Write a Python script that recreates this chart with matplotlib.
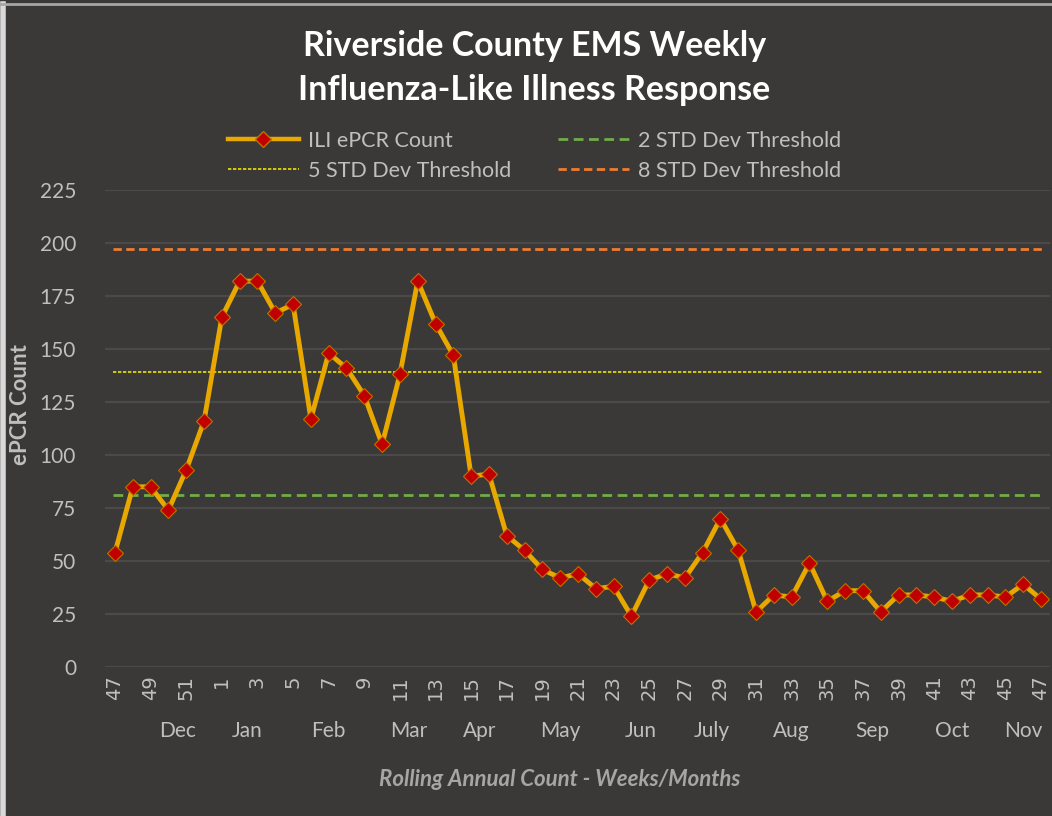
import matplotlib
matplotlib.use("Agg")
import matplotlib.pyplot as plt
import matplotlib.transforms as mtransforms
from matplotlib.lines import Line2D

weeks = [47, 48, 49, 50, 51, 52] + list(range(1, 48))
counts = [54, 85, 85, 74, 93, 116, 165, 182, 182, 167, 171, 117, 148, 141, 128, 105,
          138, 182, 162, 147, 90, 91, 62, 55, 46, 42, 44, 37, 38, 24, 41, 44, 42, 54,
          70, 55, 26, 34, 33, 49, 31, 36, 36, 26, 34, 34, 33, 31, 34, 34, 33, 39, 32]
thr2 = 81
thr5 = 139
thr8 = 197
months = ["Dec", "Jan", "Feb", "Mar", "Apr", "May", "Jun", "July", "Aug", "Sep", "Oct", "Nov"]
month_idx = [3.5, 7.4, 12.0, 16.5, 20.5, 25.0, 29.5, 33.5, 38.0, 42.5, 47.0, 51.0]

BG = "#3a3937"
TXT = "#bfbfbf"
FONT = ["Lato", "DejaVu Sans"]
plt.rcParams["font.family"] = FONT

fig = plt.figure(figsize=(10.52, 8.16), dpi=100, facecolor=BG)
ax = fig.add_axes([0.1, 0.1826, 0.898, 0.5846])
ax.set_facecolor(BG)

x = list(range(len(weeks)))
ax.set_xlim(-0.55, len(weeks) - 1 + 0.5)
ax.set_ylim(0, 225)
ax.set_yticks(range(0, 226, 25))
for yv in range(0, 226, 25):
    ax.axhline(yv, color="#4b4a48", lw=1.6, zorder=0)

xs = [-0.1, len(weeks) - 1 + 0.1]
ax.plot(xs, [thr8] * 2, color="#ed7d31", lw=2, ls=(0, (3, 1.6)), zorder=2)
ax.plot(xs, [thr5] * 2, color="#f0e400", lw=1.2, ls=(0, (2, 1)), zorder=2)
ax.plot(xs, [thr2] * 2, color="#70ad47", lw=2, ls=(0, (3.5, 2)), zorder=2)
ax.plot(x, counts, color="#e8a800", lw=3.5, marker="D", markersize=8.5,
        markerfacecolor="#c00000", markeredgecolor="#c07000", markeredgewidth=0.8, zorder=3)

for s in ax.spines.values():
    s.set_visible(False)
ax.tick_params(axis="both", length=0, colors=TXT)
ax.set_xticks(x[::2])
ax.set_xticklabels([str(w) for w in weeks[::2]], rotation=90, fontsize=14,
                   family=["DejaVu Sans"], color=TXT)
ax.tick_params(axis="x", pad=6)
for lab in ax.get_yticklabels():
    lab.set_fontsize(15)
ax.tick_params(axis="y", pad=21)

trans = mtransforms.blended_transform_factory(ax.transData, ax.transAxes)
for m, p in zip(months, month_idx):
    ax.text(p, -0.135, m, transform=trans, ha="center", va="center", fontsize=15, color=TXT)

ax.set_ylabel("ePCR Count", fontsize=16, fontweight="bold", color=TXT, labelpad=2)
ax.yaxis.set_label_coords(-0.079, 0.55)
fig.text(0.532, 0.045, "Rolling Annual Count - Weeks/Months", ha="center", va="center",
         fontsize=16, fontweight="bold", style="italic", color="#a6a6a6")

fig.text(0.508, 0.944, "Riverside County EMS Weekly", ha="center", va="center",
         fontsize=24.5, fontweight="bold", color="white")
fig.text(0.508, 0.890, "Influenza-Like Illness Response", ha="center", va="center",
         fontsize=24.5, fontweight="bold", color="white")

handles = [
    Line2D([], [], color="#e8a800", lw=3.2, marker="D", markersize=8.5,
           markerfacecolor="#c00000", markeredgecolor="#c07000"),
    Line2D([], [], color="#f0e400", lw=1.2, ls=(0, (2, 1))),
    Line2D([], [], color="#70ad47", lw=2, ls=(0, (3.5, 2))),
    Line2D([], [], color="#ed7d31", lw=2, ls=(0, (3, 1.6))),
]
labels = ["ILI ePCR Count", "5 STD Dev Threshold", "2 STD Dev Threshold", "8 STD Dev Threshold"]
leg = fig.legend(handles, labels, ncol=2, loc="center", bbox_to_anchor=(0.508, 0.809),
                 frameon=False, fontsize=15.5, handlelength=3.3, columnspacing=2.2,
                 labelspacing=0.45, handletextpad=0.4)
for t in leg.get_texts():
    t.set_color(TXT)

fig.add_artist(Line2D([0.003, 0.003], [0, 0.995], transform=fig.transFigure, color="#d9d9d9", lw=4))
fig.add_artist(Line2D([0, 1], [0.995, 0.995], transform=fig.transFigure, color="#a6a6a6", lw=2))

fig.savefig("out.png", dpi=100, facecolor=BG)
